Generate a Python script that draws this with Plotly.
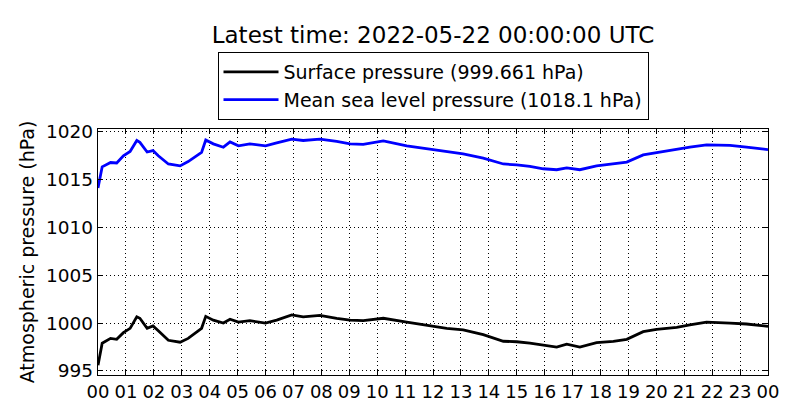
import pandas as pd
import plotly.graph_objects as go

# hours after 2022-05-21 00:00 UTC
hours = [0, 0.15, 0.45, 0.67, 0.91, 1.15, 1.39, 1.5, 1.76, 1.97,
         2.16, 2.52, 2.94, 3.23, 3.71, 3.86, 4.13, 4.49, 4.73, 5.03,
         5.44, 6.0, 6.4, 6.94, 7.35, 7.95, 8.55, 9.03, 9.5, 10.22,
         11.06, 12.01, 12.49, 13.08, 13.8, 14.52, 15.0, 15.47, 15.95, 16.43,
         16.79, 17.26, 17.86, 18.46, 18.94, 19.53, 20.01, 20.73, 21.2, 21.8,
         22.64, 23.23, 24.0]

surface_hpa = [995.6, 997.9, 998.4, 998.3, 999.0, 999.45, 1000.65, 1000.5, 999.45, 999.7,
               999.2, 998.2, 998.0, 998.4, 999.45, 1000.7, 1000.3, 1000.0, 1000.4, 1000.1,
               1000.25, 1000.0, 1000.3, 1000.85, 1000.65, 1000.8, 1000.5, 1000.3, 1000.25, 1000.5,
               1000.1, 999.7, 999.45, 999.3, 998.8, 998.1, 998.05, 997.9, 997.7, 997.5,
               997.8, 997.5, 997.95, 998.1, 998.3, 999.1, 999.35, 999.55, 999.8, 1000.1,
               1000.0, 999.9, 999.661]

mslp_hpa = [1014.1, 1016.3, 1016.75, 1016.7, 1017.45, 1017.9, 1019.05, 1018.85, 1017.85, 1018.0,
            1017.45, 1016.6, 1016.4, 1016.85, 1017.8, 1019.1, 1018.7, 1018.35, 1018.9, 1018.5,
            1018.7, 1018.5, 1018.8, 1019.2, 1019.05, 1019.2, 1018.95, 1018.7, 1018.65, 1019.0,
            1018.5, 1018.1, 1017.9, 1017.65, 1017.2, 1016.6, 1016.5, 1016.35, 1016.1, 1016.0,
            1016.2, 1016.0, 1016.4, 1016.6, 1016.8, 1017.55, 1017.8, 1018.1, 1018.35, 1018.6,
            1018.55, 1018.35, 1018.1]

y_ticks = [995, 1000, 1005, 1010, 1015, 1020]

start = pd.Timestamp("2022-05-21 00:00:00")
end = pd.Timestamp("2022-05-22 00:00:00")
times = [start + pd.Timedelta(hours=h) for h in hours]

font = "DejaVu Sans"
# the page body has an 8px default margin, so the figure is shifted by that much
shift = 8

fig = go.Figure()
fig.add_trace(go.Scatter(x=times, y=surface_hpa, mode="lines",
                         line=dict(color="black", width=2.8),
                         name="Surface pressure (999.661 hPa)"))
fig.add_trace(go.Scatter(x=times, y=mslp_hpa, mode="lines",
                         line=dict(color="#0000ff", width=2.8),
                         name="Mean sea level pressure (1018.1 hPa)"))

axis_style = dict(showline=True, linecolor="black", linewidth=1.3, mirror="allticks",
                  ticks="inside", ticklen=5, tickcolor="black",
                  showgrid=True, gridcolor="black", griddash="1px,3px", gridwidth=1,
                  zeroline=False)

fig.update_xaxes(range=[start, end], tickformat="%H", dtick=3600000,
                 tickfont=dict(size=18, color="black"), **axis_style)
fig.update_yaxes(range=[994.58, 1020.25], tickvals=y_ticks,
                 tickfont=dict(size=18.5, color="black"),
                 title=dict(text="Atmospheric pressure (hPa)", font=dict(size=19, color="black"),
                            standoff=6),
                 **axis_style)

fig.update_layout(
    width=800, height=420,
    margin=dict(l=98 - shift, r=32 + shift, t=129 - shift, b=45 + shift),
    paper_bgcolor="white", plot_bgcolor="white",
    font=dict(family=font, color="black"),
    title=dict(text="Latest time: 2022-05-22 00:00:00 UTC", font=dict(size=23, color="black"),
               x=0.5, xref="paper", xanchor="center",
               y=1 - (35 - shift) / 420, yref="container", yanchor="middle"),
    legend=dict(x=0.5, xanchor="center", y=1.313, yanchor="top",
                bgcolor="white", bordercolor="black", borderwidth=1,
                itemwidth=55, tracegroupgap=0,
                font=dict(size=19, color="black")),
    showlegend=True,
)

fig.write_html("out.html")
